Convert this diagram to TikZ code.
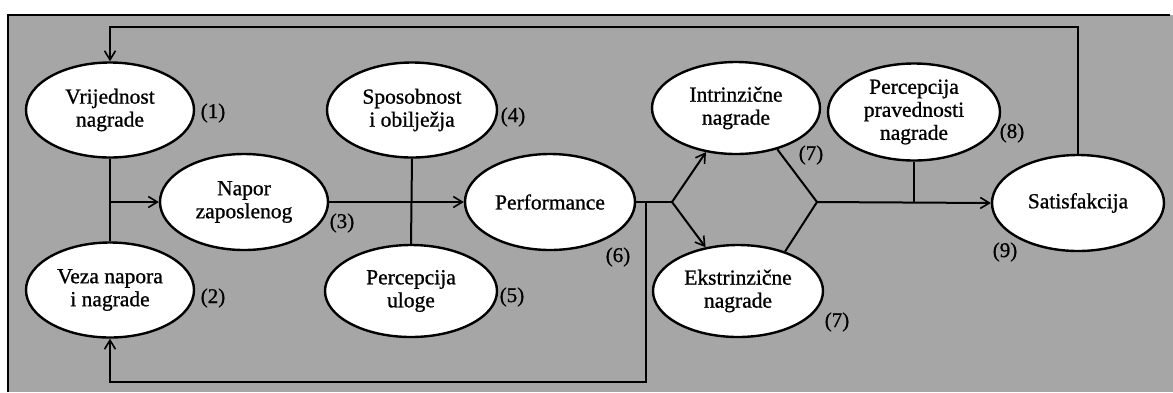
\documentclass[tikz,border=0pt]{standalone}
\usepackage{fontspec}
\setmainfont{Liberation Serif}
\newfontfamily\reffont{Liberation Serif}[FakeBold=0.9]
\usetikzlibrary{shapes.geometric,arrows.meta,calc}
\begin{document}
\begin{tikzpicture}[x=1pt,y=-1pt,
  el/.style={ellipse,draw,line width=2.4pt,fill=white,inner sep=0pt,align=center,
    font=\reffont\fontsize{21.5}{23}\selectfont},
  lab/.style={font=\reffont\fontsize{21}{23}\selectfont,inner sep=0pt},
  ln/.style={line width=2pt},
  arr/.style={ln,-{Straight Barb[length=9pt,width=11pt,line width=1.6pt]}}]
\useasboundingbox (0,0) rectangle (1173,392);
\fill[black!35] (8,15) rectangle (1173,392);
\draw[line width=2.4pt] (8,392) -- (8,15) -- (1170,15);
% nodes
\node[el,minimum width=168pt,minimum height=95pt] (V) at (110,110) {Vrijednost\\nagrade};
\node[el,minimum width=168pt,minimum height=96pt] (N) at (244,202) {Napor\\zaposlenog};
\node[el,minimum width=168pt,minimum height=95pt] (Vz) at (110,290) {Veza napora\\i nagrade};
\node[el,minimum width=170pt,minimum height=95pt] (Sp) at (412,110) {Sposobnost\\i obilježja};
\node[el,minimum width=172pt,minimum height=92pt] (Pu) at (411,291) {Percepcija\\uloge};
\node[el,minimum width=170pt,minimum height=96pt] (P) at (550,202) {Performance};
\node[el,minimum width=168pt,minimum height=92pt] (I) at (736,108) {Intrinzične\\nagrade};
\node[el,minimum width=170pt,minimum height=92pt] (E) at (738,291) {Ekstrinzične\\nagrade};
\node[el,minimum width=172pt,minimum height=97pt] (R) at (914,112) {Percepcija\\pravednosti\\nagrade};
\node[el,minimum width=172pt,minimum height=96pt] (S) at (1078,203) {Satisfakcija};
% labels
\node[lab] (l1) at (213,113) {(1)};
\node[lab] (l2) at (213,298) {(2)};
\node[lab] (l3) at (342,223) {(3)};
\node[lab] (l4) at (513,117) {(4)};
\node[lab] (l5) at (512,297) {(5)};
\node[lab] (l6) at (618,257) {(6)};
\node[lab] (l7a) at (811,155) {(7)};
\node[lab] (l7b) at (837,322) {(7)};
\node[lab] (l8) at (1012,133) {(8)};
\node[lab] (l9) at (1005,252) {(9)};
% helper coordinates
\coordinate (top) at (600,27);
\coordinate (bot) at (400,382);
\coordinate (mid) at (110,202);
\coordinate (fk) at (672,202);
\coordinate (dn) at (646,202);
\coordinate (cv) at (817,202);
% connectors
\draw[arr] (S.north) |- (top) -| (V.north);
\draw[ln] (V.south) -- (Vz.north);
\draw[arr] (mid) -- (N.west);
\draw[arr] (N.east) -- (P.west);
\draw[ln] (Sp.south) -- (Pu.north);
\draw[ln] (P.east) -- (fk);
\draw[arr] (fk) -- (I);
\draw[arr] (fk) -- (E);
\draw[arr] (dn) |- (bot) -| (Vz.south);
\draw[ln] (I.-45) -- (cv) -- (E.40);
\draw[arr] (cv) -- (S.west);
\draw[ln] (R.south) -- (R.south |- cv);
\end{tikzpicture}
\end{document}
